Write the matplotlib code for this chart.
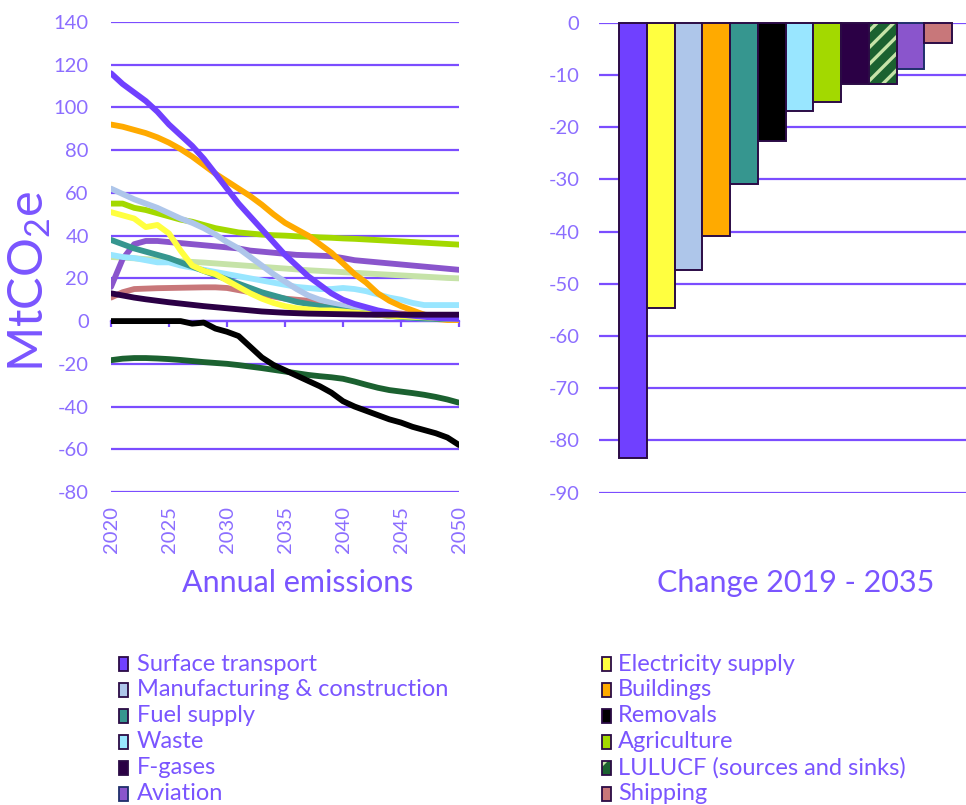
import numpy as np
import matplotlib
matplotlib.use("Agg")
import matplotlib.pyplot as plt
from matplotlib.patches import Rectangle

plt.rcParams['font.family'] = ['Lato', 'DejaVu Sans']
plt.rcParams['axes.unicode_minus'] = False
plt.rcParams['mathtext.fontset'] = 'custom'
plt.rcParams['mathtext.rm'] = 'Lato'
plt.rcParams['hatch.linewidth'] = 2.4

# ---------------- data ----------------
years = list(range(2020, 2051))

surface_transport = [116, 111, 107, 103, 98, 92, 87, 82, 76, 69, 62, 55, 49, 43, 37, 31,
                     26, 21, 17, 13, 10, 8, 6.5, 5, 4, 3, 2.5, 2, 1.5, 1.2, 1]
buildings = [92, 91, 89.5, 88, 86, 83.5, 80.5, 77, 73, 69, 65.5, 62, 58.5, 54.5, 50, 46,
             43, 40, 36, 32, 27, 22, 18, 13, 9.5, 7, 5, 3, 1, 0.5, 0.5]
manufacturing = [62, 59.5, 57, 55, 53, 50.5, 48, 46, 43.5, 40.5, 37, 34, 30, 26, 22, 18.5,
                 15, 12, 10, 8.5, 7, 5.5, 4.5, 3.5, 2.5, 2, 1.5, 1.2, 1, 1, 1]
agriculture = [55, 55, 53, 52, 50.5, 49, 47.5, 46.5, 45, 43.5, 42.5, 41.5, 41, 40.5, 40.2, 40,
               39.7, 39.5, 39.2, 39, 38.7, 38.5, 38.2, 37.9, 37.6, 37.3, 37, 36.7, 36.4, 36.1, 35.8]
electricity = [51, 49.5, 48, 44, 45, 41, 33, 26, 23.5, 22, 19, 16, 13, 10.5, 8.5, 7,
               6, 5.5, 5, 5, 4.5, 4, 3.5, 3, 2.5, 2.2, 2, 1.8, 1.5, 1.2, 1]
fuel_supply = [38, 36, 34, 32.5, 31, 29.5, 27.5, 25.5, 23.5, 21.5, 19.5, 17.5, 15.5, 13.5, 12, 10.5,
               9, 8, 7, 6, 5, 4, 3.5, 3, 2.5, 2, 1.5, 1.2, 1, 1, 1]
waste = [31, 30, 29.5, 28.5, 27.5, 27.5, 26, 25, 24, 23, 22, 21, 20, 19, 18, 17,
         16, 15.5, 15, 15, 15.5, 15, 14, 12.5, 11, 10, 8.5, 7.5, 7.5, 7.5, 7.5]
lulucf_sources = [30, 29.7, 29.4, 29, 28.7, 28.4, 28, 27.7, 27.4, 27, 26.6, 26.2, 25.8, 25.4, 25, 24.6,
                  24.2, 23.8, 23.5, 23.2, 22.9, 22.6, 22.3, 22, 21.7, 21.4, 21.1, 20.8, 20.5, 20.2, 20]
aviation = [16, 29, 36, 37.5, 37.5, 37, 36.5, 36, 35.5, 35, 34.5, 34, 33, 32.5, 32, 31.5,
            31, 30.8, 30.6, 30.4, 29.5, 28.5, 28, 27.5, 27, 26.5, 26, 25.5, 25, 24.5, 24]
shipping = [11, 13.5, 15, 15.2, 15.4, 15.5, 15.6, 15.7, 15.8, 15.8, 15.5, 14.5, 13.5, 12.5, 11.5, 10.5,
            10, 9.5, 9, 8, 7, 6, 5.5, 4.5, 4, 3.5, 3, 3, 2.5, 2.5, 2.5]
f_gases = [13, 12, 11, 10.2, 9.5, 8.8, 8.2, 7.6, 7, 6.5, 6, 5.5, 5, 4.5, 4.2, 3.9,
           3.7, 3.5, 3.4, 3.3, 3.2, 3.1, 3, 3, 3, 3, 3, 3, 3, 3, 3]
removals = [0, 0, 0, 0, 0, 0, 0, -1.2, -0.7, -3.5, -5, -7, -12, -17, -20.5, -23,
            -25.5, -28, -30.5, -33.5, -37.5, -40, -42, -44, -46, -47.5, -49.5, -51, -52.5, -54.5, -58]
lulucf_sinks = [-18.3, -17.6, -17.3, -17.3, -17.5, -17.8, -18.2, -18.7, -19.2, -19.6, -20, -20.6, -21.3,
                -22, -22.8, -23.6, -24.4, -25.2, -25.8, -26.3, -27, -28.3, -29.8, -31.2, -32.3, -33,
                -33.7, -34.5, -35.5, -36.7, -38.2]

bar_categories = ["Surface transport", "Electricity supply", "Manufacturing & construction",
                  "Buildings", "Fuel supply", "Removals", "Waste", "Agriculture", "F-gases",
                  "LULUCF (sources and sinks)", "Aviation", "Shipping"]
bar_values = [-83.3, -54.7, -47.4, -40.9, -30.9, -22.6, -16.9, -15.1, -11.7, -11.7, -8.9, -3.8]

year_ticks = [2020, 2025, 2030, 2035, 2040, 2045, 2050]
left_yticks = list(range(-80, 141, 20))
right_yticks = list(range(-90, 1, 10))

# ---------------- styles ----------------
GRID = '#7B4DFF'
TICK = '#8C6EFF'
TITLE = '#7A55FF'
EDGE = '#2B0B45'
colors = {
    "Surface transport": '#7040FF',
    "Electricity supply": '#FFFF40',
    "Manufacturing & construction": '#AEC6EA',
    "Buildings": '#FFAA00',
    "Fuel supply": '#36968F',
    "Removals": '#000000',
    "Waste": '#99E6FF',
    "Agriculture": '#A3D900',
    "F-gases": '#2B0045',
    "LULUCF (sources and sinks)": '#1B6130',
    "Aviation": '#8A55CC',
    "Shipping": '#C8777A',
}
LULUCF_LIGHT = '#C6E3A8'

fig = plt.figure(figsize=(9.66, 8.05), dpi=100)
W, H = 966.0, 805.0

# ---------------- left: line chart ----------------
ax1 = fig.add_axes([111 / W, 1 - 492 / H, 348 / W, 470 / H])
ax1.set_xlim(2020, 2050)
ax1.set_ylim(-80, 140)
ax1.set_yticks(left_yticks)
ax1.yaxis.grid(True, color=GRID, lw=1.6)
ax1.set_axisbelow(True)
for s in ['top', 'right', 'left']:
    ax1.spines[s].set_visible(False)
ax1.spines['bottom'].set_position(('data', 0))
ax1.spines['bottom'].set_color(GRID)
ax1.spines['bottom'].set_linewidth(1.6)
ax1.set_xticks(year_ticks)
ax1.tick_params(axis='x', direction='out', length=4, width=1.6, color=GRID, labelbottom=False)
ax1.tick_params(axis='y', length=0, pad=16, labelcolor=TICK, labelsize=14.5)

sec = ax1.secondary_xaxis('bottom')
sec.set_xticks(year_ticks)
sec.set_xticklabels([str(y) for y in year_ticks], rotation=90, color=TICK, fontsize=14.5)
sec.tick_params(length=0, pad=10)
sec.spines['bottom'].set_visible(False)

series = [
    (lulucf_sources, LULUCF_LIGHT),
    (lulucf_sinks, colors["LULUCF (sources and sinks)"]),
    (shipping, colors["Shipping"]),
    (aviation, colors["Aviation"]),
    (agriculture, colors["Agriculture"]),
    (waste, colors["Waste"]),
    (manufacturing, colors["Manufacturing & construction"]),
    (buildings, colors["Buildings"]),
    (fuel_supply, colors["Fuel supply"]),
    (electricity, colors["Electricity supply"]),
    (surface_transport, colors["Surface transport"]),
    (f_gases, colors["F-gases"]),
    (removals, colors["Removals"]),
]
for vals, c in series:
    ax1.plot(years, vals, color=c, lw=4.2, solid_capstyle='round',
             solid_joinstyle='round', zorder=3)

fig.text(30 / W, 1 - 281 / H, r"MtCO$\mathregular{_2}$e", rotation=90, color=TITLE,
         fontsize=35, ha='center', va='center')
fig.text(298 / W, 1 - 583 / H, "Annual emissions", color=TITLE, fontsize=22,
         ha='center', va='center')

# ---------------- right: bar chart ----------------
ax2 = fig.add_axes([599 / W, 1 - 492.7 / H, 367 / W, 470 / H])
ax2.set_ylim(-90, 0)
ax2.set_xlim(-1.22, 12.0)
ax2.set_yticks(right_yticks)
ax2.yaxis.grid(True, color=GRID, lw=1.6)
ax2.set_axisbelow(True)
for s in ax2.spines.values():
    s.set_visible(False)
ax2.set_xticks([])
ax2.tick_params(axis='y', length=0, pad=14, labelcolor=TICK, labelsize=14.5)

xpos = np.arange(len(bar_categories))
for i, (cat, v) in enumerate(zip(bar_categories, bar_values)):
    if cat.startswith("LULUCF"):
        ax2.bar(xpos[i], v, width=1.0, color=colors[cat], edgecolor=LULUCF_LIGHT,
                hatch='//', lw=0, zorder=3, clip_on=False)
        ax2.bar(xpos[i], v, width=1.0, color='none', edgecolor=EDGE, lw=1.4,
                zorder=4, clip_on=False)
    else:
        ec = '#1F2F6B' if cat == "Aviation" else EDGE
        ax2.bar(xpos[i], v, width=1.0, color=colors[cat], edgecolor=ec, lw=1.4,
                zorder=3, clip_on=False)

fig.text(796 / W, 1 - 583 / H, "Change 2019 - 2035", color=TITLE, fontsize=22,
         ha='center', va='center')

# ---------------- legend (row-major, two columns) ----------------
for i, cat in enumerate(bar_categories):
    row, col = divmod(i, 2)
    yc = 664 + row * 25.9
    mx = 119 if col == 0 else 602
    tx = 137 if col == 0 else 618
    ec = '#1F2F6B' if cat == "Aviation" else EDGE
    if cat.startswith("LULUCF"):
        fig.patches.append(Rectangle((mx / W, 1 - (yc + 7) / H), 9 / W, 14 / H,
                                     transform=fig.transFigure, facecolor=colors[cat],
                                     edgecolor=LULUCF_LIGHT, hatch='/', lw=0))
        fig.patches.append(Rectangle((mx / W, 1 - (yc + 7) / H), 9 / W, 14 / H,
                                     transform=fig.transFigure, facecolor='none',
                                     edgecolor=EDGE, lw=1.3))
    else:
        fig.patches.append(Rectangle((mx / W, 1 - (yc + 7) / H), 9 / W, 14 / H,
                                     transform=fig.transFigure, facecolor=colors[cat],
                                     edgecolor=ec, lw=1.3))
    fig.text(tx / W, 1 - yc / H, cat, color=TITLE, fontsize=17, ha='left', va='center')

fig.savefig("out.png", dpi=100)
